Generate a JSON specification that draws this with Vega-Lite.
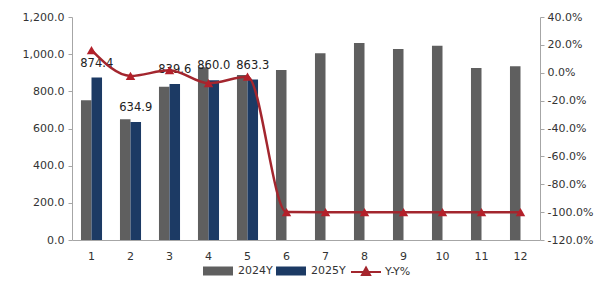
{
  "$schema": "https://vega.github.io/schema/vega-lite/v6.json",
  "width": 468,
  "height": 223,
  "autosize": {"type": "none"},
  "padding": {"left": 72, "top": 17, "right": 60, "bottom": 48},
  "background": "white",
  "config": {
    "view": {"stroke": null},
    "font": "DejaVu Sans",
    "axis": {"labelFont": "DejaVu Sans", "labelFontSize": 11, "labelColor": "#333333", "domainColor": "#A6A6A6", "tickColor": "#A6A6A6", "grid": false, "title": null, "labelOverlap": false}
  },
  "datasets": {
    "bars": [
      {"month": "1", "series": "2024Y", "value": 752},
      {"month": "1", "series": "2025Y", "value": 874.4},
      {"month": "2", "series": "2024Y", "value": 650},
      {"month": "2", "series": "2025Y", "value": 634.9},
      {"month": "3", "series": "2024Y", "value": 825},
      {"month": "3", "series": "2025Y", "value": 839.6},
      {"month": "4", "series": "2024Y", "value": 930},
      {"month": "4", "series": "2025Y", "value": 860.0},
      {"month": "5", "series": "2024Y", "value": 888},
      {"month": "5", "series": "2025Y", "value": 863.3},
      {"month": "6", "series": "2024Y", "value": 915},
      {"month": "6", "series": "2025Y", "value": null},
      {"month": "7", "series": "2024Y", "value": 1005},
      {"month": "7", "series": "2025Y", "value": null},
      {"month": "8", "series": "2024Y", "value": 1060},
      {"month": "8", "series": "2025Y", "value": null},
      {"month": "9", "series": "2024Y", "value": 1028},
      {"month": "9", "series": "2025Y", "value": null},
      {"month": "10", "series": "2024Y", "value": 1045},
      {"month": "10", "series": "2025Y", "value": null},
      {"month": "11", "series": "2024Y", "value": 925},
      {"month": "11", "series": "2025Y", "value": null},
      {"month": "12", "series": "2024Y", "value": 935},
      {"month": "12", "series": "2025Y", "value": null}
    ],
    "yoy": [
      {"month": "1", "yoy": 0.163},
      {"month": "2", "yoy": -0.023},
      {"month": "3", "yoy": 0.018},
      {"month": "4", "yoy": -0.075},
      {"month": "5", "yoy": -0.028},
      {"month": "6", "yoy": -1.0},
      {"month": "7", "yoy": -1.0},
      {"month": "8", "yoy": -1.0},
      {"month": "9", "yoy": -1.0},
      {"month": "10", "yoy": -1.0},
      {"month": "11", "yoy": -1.0},
      {"month": "12", "yoy": -1.0}
    ]
  },
  "layer": [
    {
      "data": {"name": "bars"},
      "layer": [
        {
          "mark": {"type": "bar"},
          "encoding": {
            "x": {"field": "month", "type": "ordinal", "sort": null,
                  "scale": {"paddingInner": 0.46, "paddingOuter": 0.23},
                  "axis": {"labelAngle": 0, "ticks": false, "labelPadding": 10, "domainColor": "#A6A6A6"}},
            "xOffset": {"field": "series", "type": "nominal", "scale": {"paddingInner": 0, "paddingOuter": 0}},
            "y": {"field": "value", "type": "quantitative",
                  "scale": {"domain": [0, 1200], "nice": false},
                  "axis": {"orient": "left", "format": ",.1f", "values": [0, 200, 400, 600, 800, 1000, 1200], "tickCount": 7, "tickSize": 4, "labelPadding": 4, "labelOverlap": false}},
            "fill": {"field": "series", "type": "nominal",
                     "scale": {"domain": ["2024Y", "2025Y"], "range": ["#5F5F5F", "#1C3A64"]},
                     "legend": {"orient": "none", "legendX": 131, "legendY": 239, "direction": "horizontal", "title": null,
                                "symbolType": "M-1,-0.3H1V0.3H-1Z", "symbolSize": 900, "symbolStrokeWidth": 0,
                                "labelFont": "DejaVu Sans", "labelFontSize": 11, "labelColor": "#333333", "columnPadding": 3, "labelOffset": 5}}
          }
        },
        {
          "transform": [{"filter": "datum.series === '2025Y' && datum.value != null"}],
          "mark": {"type": "text", "baseline": "bottom", "dy": -9, "fontSize": 11.5, "color": "#222222"},
          "encoding": {
            "x": {"field": "month", "type": "ordinal", "sort": null},
            "xOffset": {"field": "series", "type": "nominal"},
            "y": {"field": "value", "type": "quantitative"},
            "text": {"field": "value", "type": "quantitative", "format": ".1f"}
          }
        }
      ]
    },
    {
      "data": {"name": "yoy"},
      "layer": [
        {
          "mark": {"type": "line", "interpolate": "monotone", "strokeWidth": 2.5},
          "encoding": {
            "x": {"field": "month", "type": "ordinal", "sort": null},
            "y": {"field": "yoy", "type": "quantitative",
                  "scale": {"domain": [-1.2, 0.4], "nice": false},
                  "axis": {"orient": "right", "values": [-1.2, -1.0, -0.8, -0.6, -0.4, -0.2, 0, 0.2, 0.4], "tickCount": 9, "tickSize": 4, "labelPadding": 3, "labelOverlap": false,
                           "labelExpr": "replace(format(datum.value, '.1%'), '\u2212', '-')"}},
            "stroke": {"datum": "Y-Y%", "type": "nominal",
                       "scale": {"domain": ["Y-Y%"], "range": ["#A3262E"]},
                       "legend": {"orient": "none", "legendX": 278, "legendY": 239, "title": null,
                                  "symbolType": "M-1,0H1M0,-0.3L0.27,0.2L-0.27,0.2Z", "symbolSize": 900, "symbolStrokeWidth": 2,
                                  "labelFont": "DejaVu Sans", "labelFontSize": 11, "labelColor": "#333333", "labelOffset": 3,
                                  "encode": {"symbols": {"update": {"fill": {"value": "#B2222A"}}}}}}
          }
        },
        {
          "mark": {"type": "point", "shape": "triangle-up", "filled": true, "size": 90, "color": "#B3202A", "opacity": 1},
          "encoding": {
            "x": {"field": "month", "type": "ordinal", "sort": null},
            "y": {"field": "yoy", "type": "quantitative"}
          }
        }
      ]
    }
  ],
  "resolve": {"scale": {"y": "independent", "stroke": "independent"}}
}
